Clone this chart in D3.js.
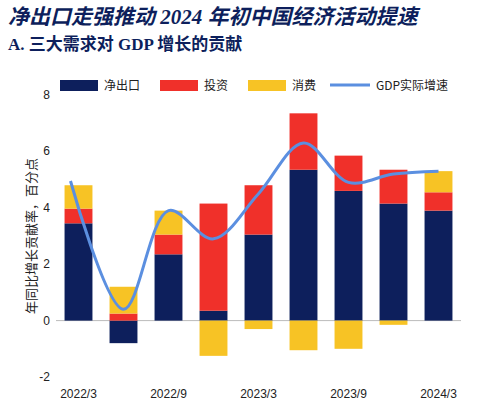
<!DOCTYPE html>
<html><head><meta charset="utf-8">
<script src="https://cdn.jsdelivr.net/npm/d3@7"></script>
<style>body{margin:0;background:#fff;font-family:"Noto Sans CJK SC","Noto Sans",sans-serif}</style>
</head><body><svg id="c" width="487" height="405"></svg>
<script>
const quarters = ["2022/3","2022/6","2022/9","2022/12","2023/3","2023/6","2023/9","2023/12","2024/3"];
const tickLabels = ["2022/3","2022/9","2023/3","2023/9","2024/3"];
const netExports = [3.45, -0.8, 2.35, 0.35, 3.05, 5.35, 4.6, 4.15, 3.9];
const investment = [0.52, 0.25, 0.7, 3.8, 1.75, 2.0, 1.25, 1.2, 0.65];
const consumption = [0.83, 0.95, 0.85, -1.25, -0.3, -1.05, -1.0, -0.15, 0.75];
const gdp = [4.95, 0.4, 3.9, 2.9, 4.5, 6.3, 4.9, 5.2, 5.3];
const yTicks = [-2, 0, 2, 4, 6, 8];

const svg = d3.select("#c");
const navy = "#0d1f5c", red = "#f0302a", yellow = "#f7c325", blue = "#5b8fe0";
svg.append("text").attr("x", 8).attr("y", 24).attr("fill", navy)
  .attr("font-size", 21).attr("font-style", "italic").attr("font-weight", "bold")
  .attr("font-family", "'Liberation Serif','Noto Sans CJK SC',serif")
  .text("净出口走强推动 2024 年初中国经济活动提速");
svg.append("text").attr("x", 8).attr("y", 50).attr("fill", navy)
  .attr("font-size", 17).attr("font-weight", "bold")
  .attr("font-family", "'Liberation Serif','Noto Sans CJK SC',serif")
  .text("A. 三大需求对 GDP 增长的贡献");

const x = d3.scaleBand().domain(quarters).range([56, 461]).paddingInner(0.38).paddingOuter(0.19);
const y = d3.scaleLinear().domain([-2, 8]).range([377, 95]);

svg.append("g")
  .selectAll("text").data(yTicks).join("text")
  .attr("x", 50).attr("y", d => y(d) + 4).attr("text-anchor", "end")
  .attr("font-size", 12).attr("font-family", "Liberation Sans, sans-serif").attr("fill", "#222").text(d => d);

svg.append("text").attr("transform", `translate(36,${y(3)}) rotate(-90)`)
  .attr("text-anchor", "middle").attr("font-size", 13).attr("fill", "#222")
  .attr("font-family", "'Noto Sans CJK SC',serif").text("年同比增长贡献率，百分点");

svg.append("line").attr("x1", 56).attr("x2", 461).attr("y1", y(0)).attr("y2", y(0)).attr("stroke", "#bbb");

const rows = quarters.map((q, i) => {
  const segs = [];
  let pos = 0, neg = 0;
  [[netExports[i], navy], [investment[i], red], [consumption[i], yellow]].forEach(([v, c]) => {
    if (v >= 0) { segs.push({q, y0: pos, y1: pos + v, c}); pos += v; }
    else { segs.push({q, y0: neg + v, y1: neg, c}); neg += v; }
  });
  return segs;
}).flat();

svg.append("g").selectAll("rect").data(rows).join("rect")
  .attr("x", d => x(d.q)).attr("width", x.bandwidth())
  .attr("y", d => y(d.y1)).attr("height", d => y(d.y0) - y(d.y1)).attr("fill", d => d.c);

const line = d3.line().x((d, i) => x(quarters[i]) + x.bandwidth() / 2 + (i === 0 ? -8 : 0)).y(d => y(d)).curve(d3.curveCatmullRom.alpha(0.5));
svg.append("path").datum(gdp).attr("d", line).attr("fill", "none").attr("stroke", blue).attr("stroke-width", 3);

svg.append("g").selectAll("text").data(tickLabels).join("text")
  .attr("x", d => x(d) + x.bandwidth() / 2).attr("y", 398).attr("text-anchor", "middle")
  .attr("font-size", 12).attr("font-family", "Liberation Sans, sans-serif").attr("fill", "#222").text(d => d);

const legend = [["净出口", navy, "rect", 60], ["投资", red, "rect", 160], ["消费", yellow, "rect", 248], ["GDP实际增速", blue, "line", 330]];
const lg = svg.append("g");
legend.forEach(([t, c, type, lx]) => {
  if (type === "rect") lg.append("rect").attr("x", lx).attr("y", 80).attr("width", 38).attr("height", 11).attr("fill", c);
  else lg.append("line").attr("x1", lx).attr("x2", lx + 40).attr("y1", 85).attr("y2", 85).attr("stroke", c).attr("stroke-width", 3);
  lg.append("text").attr("x", lx + (type === "rect" ? 44 : 46)).attr("y", 90).attr("font-size", 12).attr("fill", "#222").text(t);
});
</script></body></html>
